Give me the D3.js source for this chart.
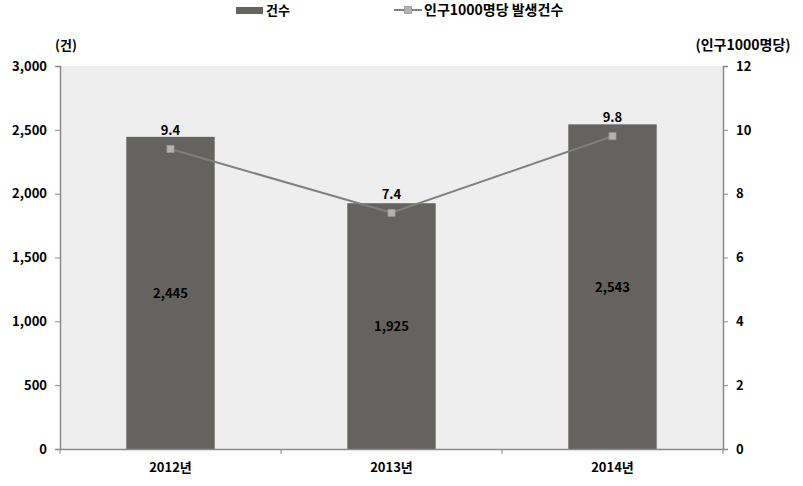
<!DOCTYPE html>
<html><head><meta charset="utf-8">
<script src="https://cdn.jsdelivr.net/npm/d3@7"></script>
<style>
body{margin:0;background:#fff;}
text{font-family:"Noto Sans CJK KR","Noto Sans",sans-serif;font-weight:bold;fill:#000;}
</style></head><body>
<svg id="c" width="803" height="486"></svg>
<script>
const categories = ["2012년","2013년","2014년"];
const cases = [2445,1925,2543];
const rate = [9.4,7.4,9.8];
const leftTicks = [0,500,1000,1500,2000,2500,3000];
const rightTicks = [0,2,4,6,8,10,12];

const svg = d3.select("#c");
const L=60, R=723, T=66, B=449;
const x = d3.scaleBand().domain(categories).range([L,R]).paddingInner(0.6).paddingOuter(0.3);
const xb = d3.scaleBand().domain(categories).range([L,R]);
const yL = d3.scaleLinear().domain([0,3000]).range([B,T]);
const yR = d3.scaleLinear().domain([0,12]).range([B,T]);

svg.append("rect").attr("x",L).attr("y",T).attr("width",R-L).attr("height",B-T).attr("fill","#eeeeee");

svg.selectAll(".bar").data(cases).enter().append("rect")
  .attr("x",(d,i)=>x(categories[i])).attr("width",x.bandwidth())
  .attr("y",d=>yL(d)).attr("height",d=>B-yL(d)).attr("fill","#656360");

const gl = svg.append("g").attr("transform",`translate(${L},0)`)
  .call(d3.axisLeft(yL).tickValues(leftTicks).tickSize(5).tickPadding(8).tickFormat(d3.format(",")));
const gr = svg.append("g").attr("transform",`translate(${R},0)`)
  .call(d3.axisRight(yR).tickValues(rightTicks).tickSize(5).tickPadding(8));
const gx = svg.append("g").attr("transform",`translate(0,${B})`)
  .call(d3.axisBottom(xb).tickSize(0).tickPadding(14));
[gl,gr,gx].forEach(g=>{
  g.select(".domain").attr("stroke","#8a8a8a").attr("stroke-width",1.5);
  g.selectAll(".tick line").attr("stroke","#8a8a8a");
  g.selectAll("text").style("font-size","13px").style("font-weight","bold").attr("fill","#000");
});
svg.selectAll(".ct").data([L].concat(categories.map(c=>xb(c)+xb.bandwidth()))).enter().append("line")
  .attr("x1",d=>d).attr("x2",d=>d).attr("y1",B).attr("y2",B+5).attr("stroke","#8a8a8a");

const line = d3.line().x((d,i)=>xb(categories[i])+xb.bandwidth()/2).y(d=>yR(d)).curve(d3.curveLinear);
svg.append("path").datum(rate).attr("d",line).attr("fill","none").attr("stroke","#7f7f7f").attr("stroke-width",2);
svg.selectAll(".mk").data(rate).enter().append("rect")
  .attr("x",(d,i)=>xb(categories[i])+xb.bandwidth()/2-3.5).attr("y",d=>yR(d)-3.5)
  .attr("width",7).attr("height",7).attr("fill","#b3b3b3").attr("stroke","#9a9a9a").attr("stroke-width",0.8);

svg.selectAll(".rl").data(rate).enter().append("text")
  .attr("x",(d,i)=>xb(categories[i])+xb.bandwidth()/2).attr("y",d=>yR(d)-14)
  .attr("text-anchor","middle").style("font-size","13px").text(d=>d.toFixed(1));
svg.selectAll(".cl").data(cases).enter().append("text")
  .attr("x",(d,i)=>xb(categories[i])+xb.bandwidth()/2).attr("y",d=>yL(d/2)+5)
  .attr("text-anchor","middle").style("font-size","13px").text(d=>d3.format(",")(d));

svg.append("text").attr("x",66).attr("y",50).attr("text-anchor","middle").style("font-size","13px").text("(건)");
svg.append("text").attr("x",743).attr("y",50).attr("text-anchor","middle").style("font-size","14px").text("(인구1000명당)");

svg.append("rect").attr("x",236).attr("y",7).attr("width",27).attr("height",7).attr("fill","#656360");
svg.append("text").attr("x",266).attr("y",15).style("font-size","13px").text("건수");
svg.append("line").attr("x1",394).attr("x2",422).attr("y1",10).attr("y2",10).attr("stroke","#7f7f7f").attr("stroke-width",2);
svg.append("rect").attr("x",404.5).attr("y",6.5).attr("width",7).attr("height",7).attr("fill","#b3b3b3").attr("stroke","#9a9a9a").attr("stroke-width",0.8);
svg.append("text").attr("x",424).attr("y",15).style("font-size","14px").text("인구1000명당 발생건수");
</script></body></html>
